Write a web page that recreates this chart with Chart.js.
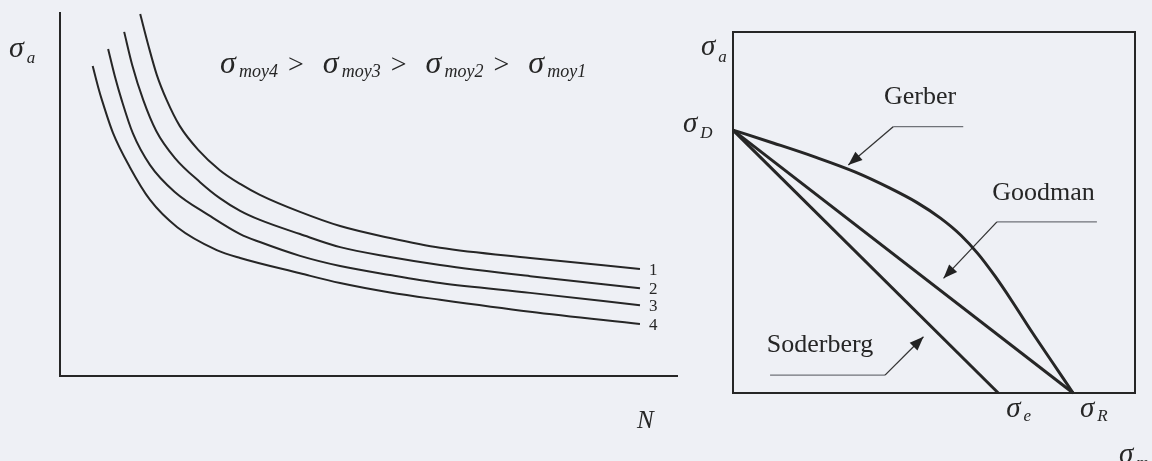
<!DOCTYPE html>
<html>
<head>
<meta charset="utf-8">
<script src="https://cdn.jsdelivr.net/npm/chart.js@4.4.1/dist/chart.umd.min.js"></script>
<style>
  html, body { margin: 0; padding: 0; width: 1152px; height: 461px; overflow: hidden; background: #eef0f5; }
  canvas { position: absolute; top: 0; }
  #wohler { left: 0; }
  #haigh { left: 660px; }
</style>
</head>
<body>
<canvas id="wohler" width="700" height="461"></canvas>
<canvas id="haigh" width="492" height="461"></canvas>
<script>
// ---- Wöhler curves (σa against N) for four mean stresses ----
const curveX1 = [13.0, 14.3, 15.7, 17.3, 19.4, 22.4, 25.9, 29.2, 32.4, 38.9, 45.4, 53.5, 61.6, 76.2, 94.0];
const curveY1 = [99.7, 91.2, 82.9, 76.0, 68.9, 62.3, 56.7, 52.9, 49.9, 45.2, 41.3, 38.0, 35.3, 32.5, 29.5];
const curveX2 = [10.4, 11.7, 13.5, 15.6, 18.6, 22.7, 25.9, 29.2, 32.4, 38.9, 45.4, 53.5, 61.6, 76.2, 94.0];
const curveY2 = [94.8, 85.7, 76.0, 67.5, 60.1, 53.4, 49.0, 45.5, 43.0, 39.1, 35.5, 32.8, 30.6, 27.5, 24.2];
const curveX3 = [7.8, 8.9, 10.0, 11.8, 14.6, 18.6, 24.3, 29.2, 32.4, 38.9, 45.4, 53.5, 61.6, 76.2, 94.0];
const curveY3 = [90.1, 82.5, 76.0, 66.9, 58.1, 50.7, 44.1, 39.1, 36.9, 33.1, 30.3, 27.8, 25.6, 22.9, 19.5];
const curveX4 = [5.3, 6.2, 6.8, 8.6, 11.3, 14.6, 19.0, 25.4, 29.2, 38.9, 45.4, 53.5, 61.6, 76.2, 94.0];
const curveY4 = [85.4, 79.5, 76.0, 66.9, 57.6, 48.5, 41.0, 34.7, 32.5, 28.3, 25.6, 23.0, 21.0, 17.7, 14.3];
const curveLabels = ['1', '2', '3', '4'];
const meanStressSubs = ['moy4', 'moy3', 'moy2', 'moy1'];

// ---- Haigh diagram (σa against σm) ----
const gerberX = [0, 12, 24, 36, 46, 54, 61, 67, 72, 77, 82, 88, 94, 100];
const gerberY = [100, 95, 89.8, 84, 78, 72.5, 66.5, 60, 53, 44.5, 35, 23, 11.5, 0];
const goodmanX = [0, 100];
const goodmanY = [100, 0];
const soderbergX = [0, 78];
const soderbergY = [100, 0];
const criterionNames = ['Gerber', 'Goodman', 'Soderberg'];
// leader lines pointing from each name to its line
const gerberLeaderX = [67.7, 47.1, 33.9];
const gerberLeaderY = [101.3, 101.3, 86.7];
const goodmanLeaderX = [107.0, 77.6, 61.9];
const goodmanLeaderY = [65.1, 65.1, 43.6];
const soderbergLeaderX = [10.9, 44.7, 56.0];
const soderbergLeaderY = [6.8, 6.8, 21.4];

const SERIF = '"Liberation Serif", "Times New Roman", "DejaVu Serif", serif';
const INK = '#262626';

function points(xs, ys) { return xs.map((x, i) => ({ x, y: ys[i] })); }

// σ followed by an italic subscript; returns the x where the group ends
function sigma(ctx, x, y, sub, size, subSize, drop) {
  ctx.font = `italic ${size}px ${SERIF}`;
  ctx.fillText('σ', x, y);
  const w = ctx.measureText('σ').width;
  ctx.font = `italic ${subSize}px ${SERIF}`;
  const sx = x + w + size * 0.1;
  ctx.fillText(sub, sx, y + drop);
  return sx + ctx.measureText(sub).width;
}

function bareAxis(position) {
  return {
    type: 'linear', position,
    ticks: { display: false },
    grid: { display: false, drawTicks: false },
    border: { display: true, color: INK, width: 2 }
  };
}

const common = {
  responsive: false, animation: false, devicePixelRatio: 1, events: [],
  plugins: { legend: { display: false }, tooltip: { enabled: false } }
};

// ---------- left panel ----------
const curves = [
  { x: curveX1, y: curveY1 }, { x: curveX2, y: curveY2 },
  { x: curveX3, y: curveY3 }, { x: curveX4, y: curveY4 }
];

const wohlerText = {
  id: 'wohlerText',
  afterDraw(chart) {
    const { ctx, chartArea: a, scales: { x, y } } = chart;
    ctx.save();
    ctx.fillStyle = INK;
    ctx.textBaseline = 'alphabetic';
    ctx.textAlign = 'left';
    // axis names
    sigma(ctx, a.left - 51, a.top + 44, 'a', 30, 17, 6);
    ctx.font = `italic 25px ${SERIF}`;
    ctx.fillText('N', a.right - 40, a.bottom + 52);
    // ordering of the mean stresses
    let cx = a.left + 160;
    const by = a.top + 60;
    meanStressSubs.forEach((s, i) => {
      cx = sigma(ctx, cx, by, s, 32, 18, 4);
      if (i < meanStressSubs.length - 1) {
        ctx.font = `28px ${SERIF}`;
        cx += 10;
        ctx.fillText('>', cx, by);
        cx += ctx.measureText('>').width + 19;
      }
    });
    // curve numbers at the line ends
    ctx.font = `17px ${SERIF}`;
    curves.forEach((c, i) => {
      const n = c.x.length - 1;
      ctx.fillText(curveLabels[i], x.getPixelForValue(c.x[n]) + 9, y.getPixelForValue(c.y[n]) + 6);
    });
    ctx.restore();
  }
};

new Chart(document.getElementById('wohler'), {
  type: 'scatter',
  data: {
    datasets: curves.map((c, i) => ({
      label: curveLabels[i],
      data: points(c.x, c.y),
      showLine: true,
      borderColor: INK,
      borderWidth: 2,
      pointRadius: 0,
      cubicInterpolationMode: 'monotone',
      clip: false
    }))
  },
  options: {
    ...common,
    layout: { padding: { left: 60, top: 13, right: 23, bottom: 85 } },
    scales: {
      x: { ...bareAxis('bottom'), min: 0, max: 100 },
      y: { ...bareAxis('left'), min: 0, max: 100 }
    }
  },
  plugins: [wohlerText]
});

// ---------- right panel ----------
const leaderStyle = {
  showLine: true, pointRadius: 0, borderWidth: 1.3, clip: false, leader: true,
  segment: { borderColor: ctx => ctx.p0DataIndex === 0 ? '#6f7278' : '#333333' }
};

const haighMarks = {
  id: 'haighMarks',
  afterDatasetsDraw(chart) {
    const { ctx } = chart;
    ctx.save();
    ctx.fillStyle = '#222';
    chart.data.datasets.forEach((ds, i) => {
      if (!ds.leader) return;
      const pts = chart.getDatasetMeta(i).data;
      const p1 = pts[pts.length - 2], p2 = pts[pts.length - 1];
      const ang = Math.atan2(p2.y - p1.y, p2.x - p1.x);
      const L = 14, W = 5.5;
      const bx = p2.x - L * Math.cos(ang), by = p2.y - L * Math.sin(ang);
      ctx.beginPath();
      ctx.moveTo(p2.x, p2.y);
      ctx.lineTo(bx + W * Math.sin(ang), by - W * Math.cos(ang));
      ctx.lineTo(bx - W * Math.sin(ang), by + W * Math.cos(ang));
      ctx.closePath();
      ctx.fill();
    });
    ctx.restore();
  },
  afterDraw(chart) {
    const { ctx, chartArea: a, scales: { x, y } } = chart;
    ctx.save();
    ctx.fillStyle = INK;
    // criterion names
    ctx.font = `26px ${SERIF}`;
    ctx.textAlign = 'center';
    ctx.textBaseline = 'middle';
    const namePos = [[55.0, 112.7], [91.3, 75.9], [25.6, 18.3]];
    criterionNames.forEach((n, i) => {
      ctx.fillText(n, x.getPixelForValue(namePos[i][0]), y.getPixelForValue(namePos[i][1]));
    });
    ctx.textAlign = 'left';
    ctx.textBaseline = 'alphabetic';
    // axis names and characteristic stresses
    sigma(ctx, a.left - 32, a.top + 23, 'a', 29, 17, 7);
    const yD = y.getPixelForValue(gerberY[0]);
    sigma(ctx, a.left - 50, yD + 2, 'D', 29, 17, 6);
    const xe = x.getPixelForValue(soderbergX[1]);
    sigma(ctx, xe + 8, a.bottom + 24, 'e', 29, 17, 4);
    const xR = x.getPixelForValue(goodmanX[1]);
    sigma(ctx, xR + 7, a.bottom + 24, 'R', 29, 17, 4);
    sigma(ctx, a.right - 16, a.bottom + 70, 'm', 29, 17, 5);
    ctx.restore();
  }
};

new Chart(document.getElementById('haigh'), {
  type: 'scatter',
  data: {
    datasets: [
      { label: criterionNames[0], data: points(gerberX, gerberY), showLine: true, borderColor: INK, borderWidth: 3, pointRadius: 0, cubicInterpolationMode: 'monotone', clip: false },
      { label: criterionNames[1], data: points(goodmanX, goodmanY), showLine: true, borderColor: INK, borderWidth: 3, pointRadius: 0, clip: false },
      { label: criterionNames[2], data: points(soderbergX, soderbergY), showLine: true, borderColor: INK, borderWidth: 3, pointRadius: 0, clip: false },
      { ...leaderStyle, data: points(gerberLeaderX, gerberLeaderY) },
      { ...leaderStyle, data: points(goodmanLeaderX, goodmanLeaderY) },
      { ...leaderStyle, data: points(soderbergLeaderX, soderbergLeaderY) }
    ]
  },
  options: {
    ...common,
    layout: { padding: { left: 73, top: 32, right: 17, bottom: 68 } },
    scales: {
      x: { ...bareAxis('bottom'), min: 0, max: 118.2 },
      y: { ...bareAxis('left'), min: 0, max: 137.3 },
      xTop: { ...bareAxis('top'), min: 0, max: 118.2 },
      yRight: { ...bareAxis('right'), min: 0, max: 137.3 }
    }
  },
  plugins: [haighMarks]
});
</script>
</body>
</html>
